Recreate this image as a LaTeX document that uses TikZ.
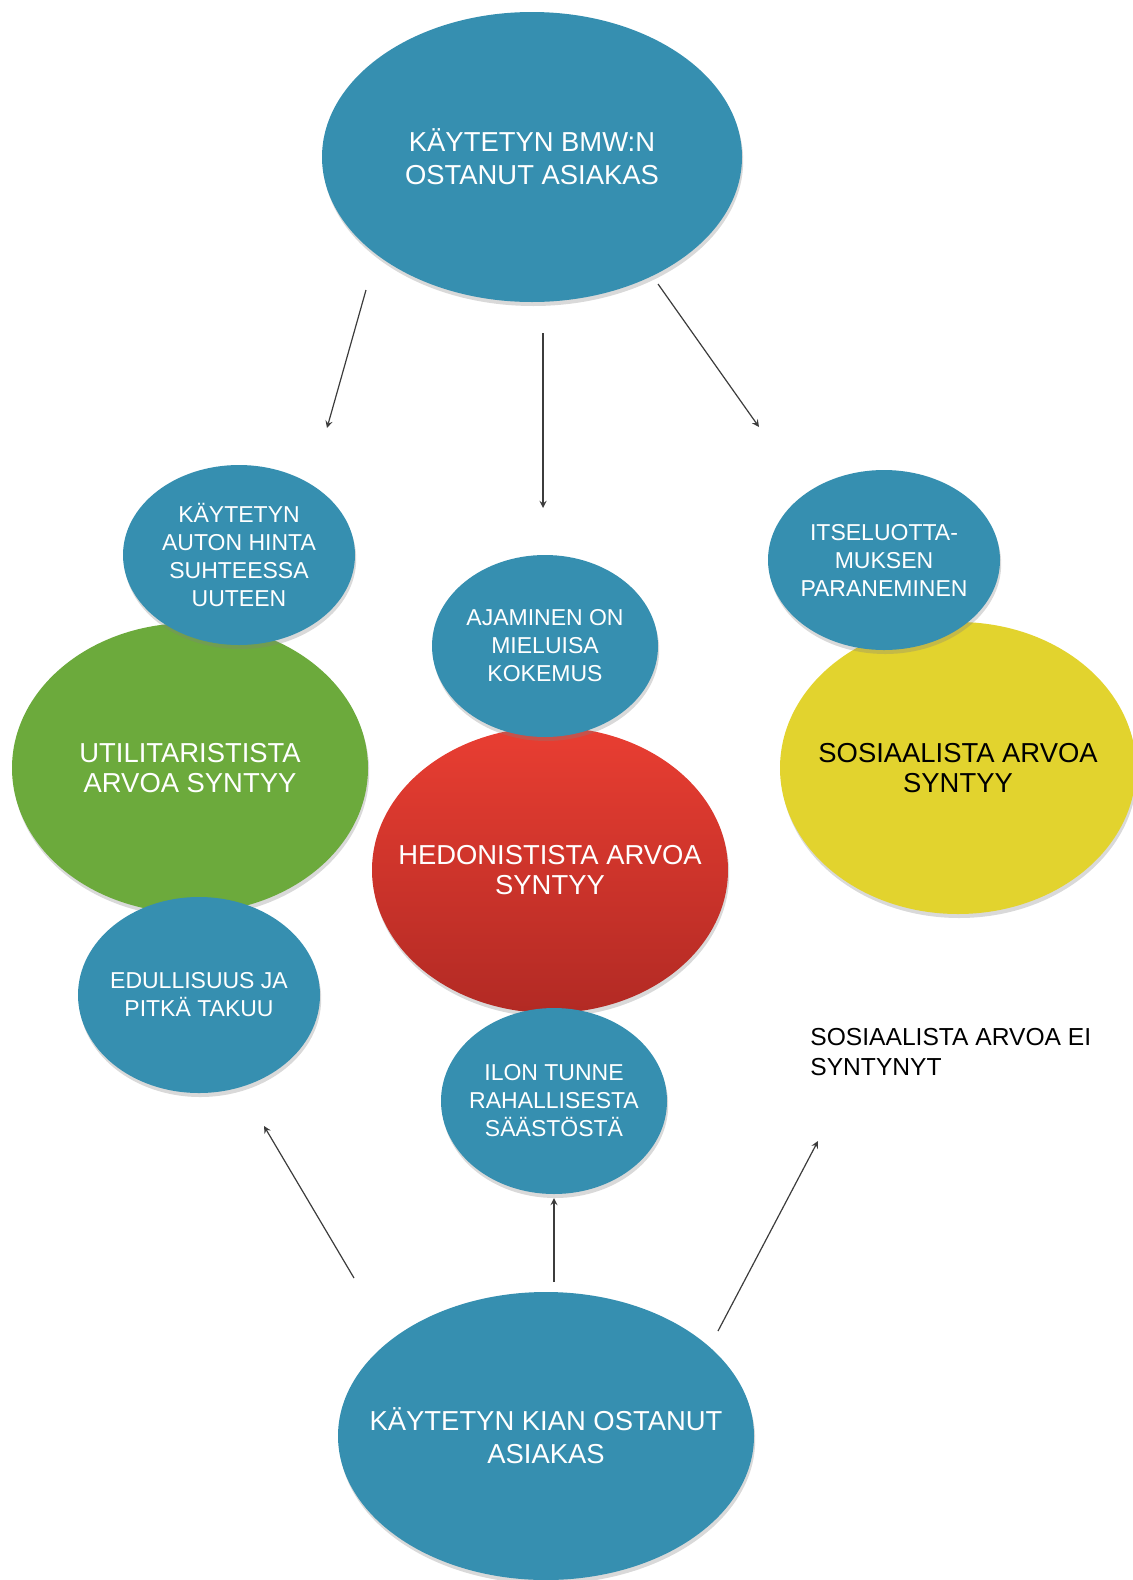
\documentclass[tikz,border=0pt]{standalone}
\usepackage{fontspec}
\setmainfont{Liberation Sans}
\usetikzlibrary{shapes.geometric,shadows,arrows}

\definecolor{bubbleblue}{RGB}{54,143,176}
\definecolor{utilgreen}{RGB}{108,170,60}
\definecolor{hedontop}{RGB}{233,62,50}
\definecolor{hedonbottom}{RGB}{178,42,36}
\definecolor{sosyellow}{RGB}{226,211,46}
\definecolor{arrowgray}{RGB}{60,60,60}

\begin{document}
\begin{tikzpicture}[x=0.5pt, y=-0.5pt, >=stealth,
    bubble/.style={ellipse, inner xsep=-30pt, inner ysep=0pt, align=center,
        drop shadow={shadow xshift=.6pt, shadow yshift=-2pt, opacity=.3}},
    customer/.style={bubble, fill=bubbleblue, text=white, font=\fontsize{13.7}{16.5}\selectfont},
    value/.style={bubble, minimum width=178pt, minimum height=145pt, font=\fontsize{13.7}{15}\selectfont},
    reason/.style={bubble, fill=bubbleblue, text=white, minimum width=116pt, minimum height=90pt, font=\fontsize{11.5}{14}\selectfont},
    arr/.style={->, draw=arrowgray, line width=.6pt}]
    \useasboundingbox (0,0) rectangle (1133,1580);

    % customers
    \node[customer, minimum width=210pt, minimum height=145pt] (bmw) at (532,157) {KÄYTETYN BMW:N\\OSTANUT ASIAKAS};
    \node[customer, minimum width=208pt, minimum height=144pt] (kia) at (546,1436) {KÄYTETYN KIAN OSTANUT\\ASIAKAS};

    % values
    \node[value, fill=utilgreen, text=white] (util) at (190,768) {UTILITARISTISTA\\ARVOA SYNTYY};
    \node[value, top color=hedontop, bottom color=hedonbottom, text=white, minimum height=143pt] (hedon) at (550,870) {HEDONISTISTA ARVOA\\SYNTYY};
    \node[value, fill=sosyellow, text=black, minimum height=146pt] (sos) at (958,768) {SOSIAALISTA ARVOA\\SYNTYY};

    % reasons
    \node[reason] (hinta) at (239,555) {KÄYTETYN\\AUTON HINTA\\SUHTEESSA\\UUTEEN};
    \node[reason, minimum width=121pt, minimum height=98pt] (takuu) at (199,995) {EDULLISUUS JA\\PITKÄ TAKUU};
    \node[reason, minimum width=113pt, minimum height=91pt] (ajaminen) at (545,646) {AJAMINEN ON\\MIELUISA\\KOKEMUS};
    \node[reason, minimum width=113pt, minimum height=93pt] (saasto) at (554,1101) {ILON TUNNE\\RAHALLISESTA\\SÄÄSTÖSTÄ};
    \node[reason] (itseluott) at (884,560) {ITSELUOTTA-\\MUKSEN\\PARANEMINEN};

    \node[anchor=north west, align=left, inner sep=0pt, font=\fontsize{12.3}{15}\selectfont] (eisos) at (810,1028) {SOSIAALISTA ARVOA EI\\SYNTYNYT};

    % arrow ends
    \coordinate (bmw-u) at (366,290);  \coordinate (to-u) at (327,428);
    \coordinate (bmw-h) at (543,333);  \coordinate (to-h) at (543,508);
    \coordinate (bmw-s) at (658,284);  \coordinate (to-s) at (759,427);
    \coordinate (kia-u) at (354,1278); \coordinate (to-takuu) at (264,1126);
    \coordinate (kia-h) at (554,1282); \coordinate (to-saasto) at (554,1198);
    \coordinate (kia-s) at (718,1331); \coordinate (to-eisos) at (818,1141);

    \draw[arr] (bmw-u) -- (to-u);
    \draw[arr] (bmw-h) -- (to-h);
    \draw[arr] (bmw-s) -- (to-s);
    \draw[arr] (kia-u) -- (to-takuu);
    \draw[arr] (kia-h) -- (to-saasto);
    \draw[arr] (kia-s) -- (to-eisos);
\end{tikzpicture}
\end{document}
